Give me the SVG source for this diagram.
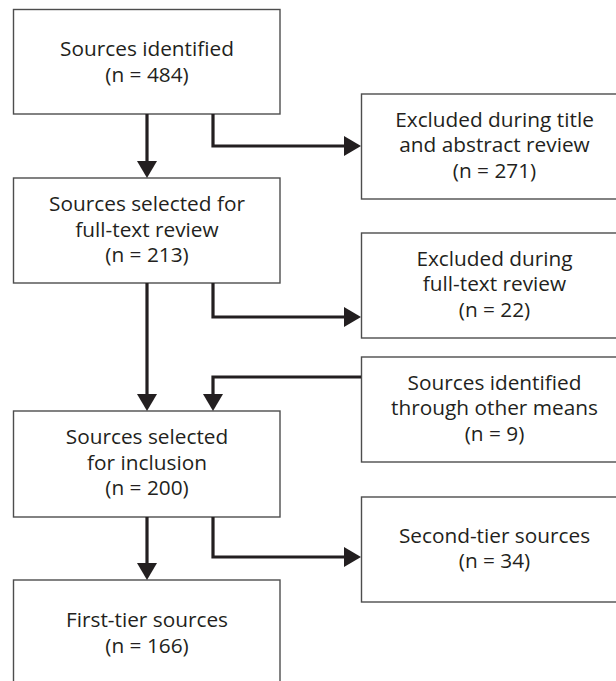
<svg xmlns="http://www.w3.org/2000/svg" width="616" height="681" viewBox="0 0 616 681">
<style>
.box{fill:#fff;stroke:#4d4d4d;stroke-width:1.4}
.t{font-family:"Open Sans","Noto Sans","Liberation Sans",sans-serif;font-size:20.8px;fill:#231f20;text-anchor:middle}
.c{fill:none;stroke:#231f20;stroke-width:3.2}
</style>
<defs>
<marker id="ah" markerUnits="userSpaceOnUse" markerWidth="17" markerHeight="20" refX="0" refY="10" orient="auto" viewBox="0 0 17 20">
<path d="M0,0 L17,10 L0,20 z" fill="#231f20"/>
</marker>
</defs>
<rect width="616" height="681" fill="#fff"/>
<g id="n1"><rect class="box" x="13.5" y="9.5" width="266.5" height="104.5"/>
<text class="t" x="147" y="56">Sources identified</text><text class="t" x="147" y="82">(n = 484)</text></g>
<g id="n2"><rect class="box" x="13.5" y="178" width="266.5" height="105"/>
<text class="t" x="147" y="211">Sources selected for</text><text class="t" x="147" y="236.5">full-text review</text><text class="t" x="147" y="262">(n = 213)</text></g>
<g id="n3"><rect class="box" x="13.5" y="411" width="266.5" height="106"/>
<text class="t" x="147" y="444">Sources selected</text><text class="t" x="147" y="469.5">for inclusion</text><text class="t" x="147" y="495">(n = 200)</text></g>
<g id="n4"><rect class="box" x="13.5" y="580" width="266.5" height="110"/>
<text class="t" x="147" y="626.5">First-tier sources</text><text class="t" x="147" y="652.5">(n = 166)</text></g>
<g id="r1"><rect class="box" x="361.5" y="94" width="266" height="105"/>
<text class="t" x="494.5" y="126.5">Excluded during title</text><text class="t" x="494.5" y="152">and abstract review</text><text class="t" x="494.5" y="177.5">(n = 271)</text></g>
<g id="r2"><rect class="box" x="361.5" y="233" width="266" height="105"/>
<text class="t" x="494.5" y="265.5">Excluded during</text><text class="t" x="494.5" y="291">full-text review</text><text class="t" x="494.5" y="316.5">(n = 22)</text></g>
<g id="r3"><rect class="box" x="361.5" y="357" width="266" height="105"/>
<text class="t" x="494.5" y="389.5">Sources identified</text><text class="t" x="494.5" y="415">through other means</text><text class="t" x="494.5" y="440.5">(n = 9)</text></g>
<g id="r4"><rect class="box" x="361.5" y="497" width="266" height="105"/>
<text class="t" x="494.5" y="542.5">Second-tier sources</text><text class="t" x="494.5" y="568">(n = 34)</text></g>
<g id="connectors">
<path class="c" d="M147,114 V161" marker-end="url(#ah)"/>
<path class="c" d="M213,114 V146 H344" marker-end="url(#ah)"/>
<path class="c" d="M147,283 V394" marker-end="url(#ah)"/>
<path class="c" d="M213,283 V317 H344" marker-end="url(#ah)"/>
<path class="c" d="M361,377 H213 V394" marker-end="url(#ah)"/>
<path class="c" d="M147,517 V563" marker-end="url(#ah)"/>
<path class="c" d="M213,517 V557 H344" marker-end="url(#ah)"/>
</g>
</svg>
